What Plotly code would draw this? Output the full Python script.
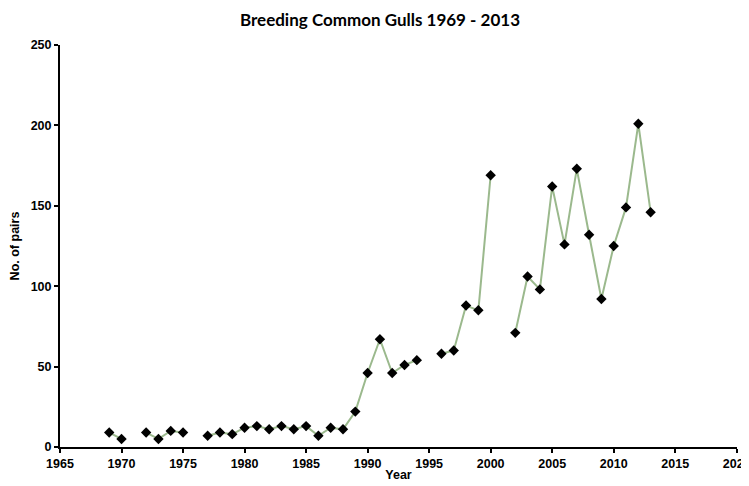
import plotly.graph_objects as go

years = list(range(1969, 2014))
pairs = [9, 5, None, 9, 5, 10, 9, None, 7, 9, 8, 12, 13, 11, 13, 11, 13, 7, 12, 11,
         22, 46, 67, 46, 51, 54, None, 58, 60, 88, 85, 169, None, 71, 106, 98, 162,
         126, 173, 132, 92, 125, 149, 201, 146]

x_ticks = list(range(1965, 2021, 5))
y_ticks = list(range(0, 251, 50))

fig = go.Figure()
fig.add_trace(go.Scatter(
    x=years, y=pairs, mode="lines+markers", connectgaps=False,
    line=dict(color="#9bb98d", width=2),
    marker=dict(symbol="diamond", size=8, color="black"),
    showlegend=False,
))

axis_font = dict(family="Liberation Sans", size=12.5, color="black")
fig.update_layout(
    width=741, height=478,
    margin=dict(l=52, r=12, t=37, b=39),
    paper_bgcolor="white", plot_bgcolor="white",
    font=dict(family="Liberation Sans", color="black"),
    title=dict(text="<b>Breeding Common Gulls 1969 - 2013</b>",
               font=dict(family="Lato", size=17, color="black"),
               x=0.502, xanchor="center", y=0.975, yanchor="middle"),
    xaxis=dict(range=[1965, 2020.02], tickvals=x_ticks,
               ticktext=[f"<b>{v}</b>" for v in x_ticks],
               showgrid=False, zeroline=False, showline=True, linecolor="black", linewidth=2,
               ticks="outside", ticklen=4, tickcolor="black", tickwidth=1.5,
               tickfont=axis_font, automargin=False, ticklabeloverflow="allow",
               title=dict(text="<b>Year</b>", font=dict(family="Liberation Sans", size=12.5, color="black"), standoff=0)),
    yaxis=dict(range=[0, 250], tickvals=y_ticks,
               ticktext=[f"<b>{v}</b>" for v in y_ticks],
               showgrid=False, zeroline=False, showline=True, linecolor="black", linewidth=2,
               ticks="outside", ticklen=4, tickcolor="black", tickwidth=1.5,
               tickfont=axis_font, automargin=False,
               title=dict(text="<b>No. of pairs</b>", font=dict(family="Liberation Sans", size=12.5, color="black"), standoff=11)),
)

fig.write_html("out.html")
